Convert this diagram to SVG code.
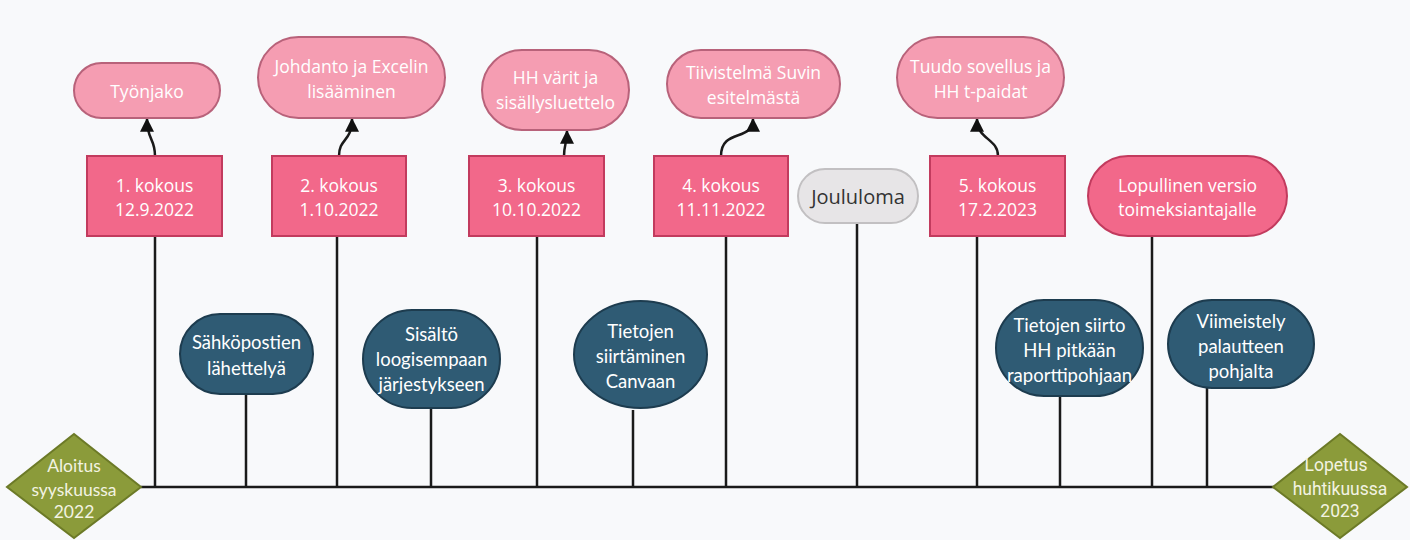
<svg xmlns="http://www.w3.org/2000/svg" width="1410" height="540" viewBox="0 0 1410 540">
<defs>
<marker id="ah" viewBox="0 0 12 12" refX="11" refY="6" markerWidth="14" markerHeight="14" markerUnits="userSpaceOnUse" orient="auto">
<path d="M0,0 L12,6 L0,12 z" fill="#111"/>
</marker>
<style>
.ln{stroke:#1a1a1a;stroke-width:2.5;fill:none}
.ar{stroke:#1a1a1a;stroke-width:2.5;fill:none;marker-end:url(#ah)}
.meet{fill:#f2688a;stroke:#c23b5e;stroke-width:2}
.topic{fill:#f59db2;stroke:#b8627a;stroke-width:2}
.task{fill:#2f5b74;stroke:#1d3c4f;stroke-width:2}
.hol{fill:#e7e5e7;stroke:#c2c0c2;stroke-width:2}
.dia{fill:#8b9b3a;stroke:#6c7a27;stroke-width:2}
.tp{font-family:"Open Sans","Noto Sans",sans-serif;font-size:17.5px;fill:#fff;text-anchor:middle;dominant-baseline:central}
.tl{font-family:Lato,"Noto Sans",sans-serif;font-size:18.5px;fill:#fff;text-anchor:middle;dominant-baseline:central}
.td{font-family:Lato,"Noto Sans",sans-serif;font-size:17.5px;fill:#f3f3e2;text-anchor:middle;dominant-baseline:central}
.tr{font-family:Roboto,"Noto Sans",sans-serif;font-size:17.5px;fill:#f3f3e2;text-anchor:middle;dominant-baseline:central}
.tg{font-family:"Open Sans","Noto Sans",sans-serif;font-size:20px;fill:#333;text-anchor:middle;dominant-baseline:central}
</style>
</defs>
<rect width="1410" height="540" fill="#f8f9fb"/>
<g id="connectors">
<path class="ln" d="M141,487 L1275,487"/>
<path class="ln" d="M155,236 L155,487"/>
<path class="ln" d="M337,236 L337,487"/>
<path class="ln" d="M537,236 L537,487"/>
<path class="ln" d="M726,236 L726,487"/>
<path class="ln" d="M857,223 L857,487"/>
<path class="ln" d="M977,236 L977,487"/>
<path class="ln" d="M1152,236 L1152,487"/>
<path class="ln" d="M246,394 L246,487"/>
<path class="ln" d="M431,408 L431,487"/>
<path class="ln" d="M633,410 L633,487"/>
<path class="ln" d="M1060,396 L1060,487"/>
<path class="ln" d="M1207,388 L1207,487"/>
<path class="ar" d="M155,156 C155,138 147,140 147,119"/>
<path class="ar" d="M339,156 C339,138 352,142 352,119"/>
<path class="ar" d="M564,156 C564,145 567,143 567,131"/>
<path class="ar" d="M721,156 C721,128 753,142 753,119"/>
<path class="ar" d="M998,156 C998,138 977,140 977,119"/>
</g>
<g id="start">
<polygon class="dia" points="74,434 141,487 74,538 7,487"/>
<text class="td" x="74" y="465">Aloitus</text>
<text class="td" x="74" y="489">syyskuussa</text>
<text class="td" x="74" y="511">2022</text>
</g>
<g id="end">
<polygon class="dia" points="1340,434 1407,487 1340,538 1273,487"/>
<text class="tr" x="1336" y="465">Lopetus</text>
<text class="tr" x="1340" y="489">huhtikuussa</text>
<text class="tr" x="1340" y="511">2023</text>
</g>
<g id="m1"><rect class="meet" x="87" y="156" width="135" height="80"/>
<text class="tp" x="154.5" y="185">1. kokous</text><text class="tp" x="154.5" y="209">12.9.2022</text></g>
<g id="m2"><rect class="meet" x="272" y="156" width="134" height="80"/>
<text class="tp" x="339" y="185">2. kokous</text><text class="tp" x="339" y="209">1.10.2022</text></g>
<g id="m3"><rect class="meet" x="469" y="156" width="135" height="80"/>
<text class="tp" x="536.5" y="185">3. kokous</text><text class="tp" x="536.5" y="209">10.10.2022</text></g>
<g id="m4"><rect class="meet" x="654" y="156" width="134" height="80"/>
<text class="tp" x="721" y="185">4. kokous</text><text class="tp" x="721" y="209">11.11.2022</text></g>
<g id="m5"><rect class="meet" x="930" y="156" width="135" height="80"/>
<text class="tp" x="997.5" y="185">5. kokous</text><text class="tp" x="997.5" y="209">17.2.2023</text></g>
<g id="holiday"><rect class="hol" x="798" y="169" width="120" height="54" rx="27"/>
<text class="tg" x="858" y="196">Joululoma</text></g>
<g id="final"><rect class="meet" x="1088" y="156" width="199" height="80" rx="40"/>
<text class="tp" x="1187.5" y="185">Lopullinen versio</text><text class="tp" x="1187.5" y="209">toimeksiantajalle</text></g>
<g id="t1"><rect class="topic" x="74" y="63" width="146" height="55" rx="27.5"/>
<text class="tp" x="147" y="91">Työnjako</text></g>
<g id="t2"><rect class="topic" x="258" y="37" width="187" height="81" rx="40.5"/>
<text class="tp" x="351.5" y="66">Johdanto ja Excelin</text><text class="tp" x="351.5" y="91">lisääminen</text></g>
<g id="t3"><rect class="topic" x="482" y="50" width="147" height="80" rx="40"/>
<text class="tp" x="555.5" y="77">HH värit ja</text><text class="tp" x="555.5" y="102">sisällysluettelo</text></g>
<g id="t4"><rect class="topic" x="667" y="50" width="173" height="68" rx="34"/>
<text class="tp" x="753.5" y="72">Tiivistelmä Suvin</text><text class="tp" x="753.5" y="97">esitelmästä</text></g>
<g id="t5"><rect class="topic" x="897" y="37" width="167" height="81" rx="40.5"/>
<text class="tp" x="980.5" y="66">Tuudo sovellus ja</text><text class="tp" x="980.5" y="91">HH t-paidat</text></g>
<g id="w1"><rect class="task" x="180" y="314" width="133" height="80" rx="40"/>
<text class="tl" x="246.5" y="342">Sähköpostien</text><text class="tl" x="246.5" y="368">lähettelyä</text></g>
<g id="w2"><rect class="task" x="363" y="310" width="137" height="98" rx="49"/>
<text class="tl" x="431.5" y="334">Sisältö</text><text class="tl" x="431.5" y="359">loogisempaan</text><text class="tl" x="431.5" y="384">järjestykseen</text></g>
<g id="w3"><ellipse class="task" cx="640.5" cy="354.5" rx="66.5" ry="53.5"/>
<text class="tl" x="640.5" y="331">Tietojen</text><text class="tl" x="640.5" y="356">siirtäminen</text><text class="tl" x="640.5" y="381">Canvaan</text></g>
<g id="w4"><rect class="task" x="996" y="300" width="147" height="96" rx="48"/>
<text class="tl" x="1069.5" y="325">Tietojen siirto</text><text class="tl" x="1069.5" y="350">HH pitkään</text><text class="tl" x="1069.5" y="375">raporttipohjaan</text></g>
<g id="w5"><rect class="task" x="1168" y="300" width="146" height="88" rx="44"/>
<text class="tl" x="1241" y="321">Viimeistely</text><text class="tl" x="1241" y="346">palautteen</text><text class="tl" x="1241" y="371">pohjalta</text></g>
</svg>
